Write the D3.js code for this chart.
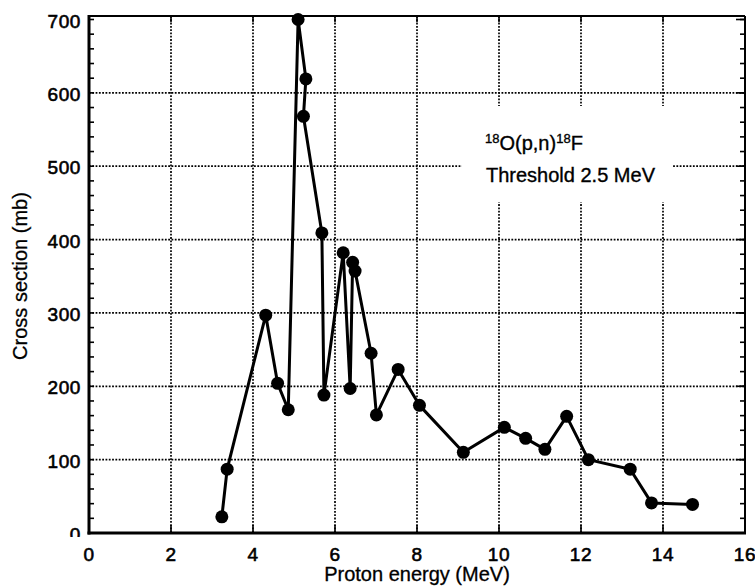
<!DOCTYPE html>
<html>
<head>
<meta charset="utf-8">
<script src="https://cdn.jsdelivr.net/npm/d3@7/dist/d3.min.js"></script>
<style>
  html, body { margin: 0; padding: 0; background: #fff; }
  svg { display: block; font-family: "Liberation Sans", Arial, Helvetica, sans-serif; }
</style>
</head>
<body>
<svg id="chart" width="755" height="587"></svg>
<script>
// ---- Data ----
const energy = [3.24, 3.37, 4.31, 4.60, 4.86, 5.10, 5.29, 5.23, 5.68, 5.73, 6.20, 6.37, 6.43, 6.49, 6.88, 7.01, 7.54, 8.06, 9.13, 10.13, 10.65, 11.12, 11.65, 12.18, 13.20, 13.72, 14.72];
const crossSection = [22, 87, 297, 204, 168, 700, 619, 568, 409, 188, 382, 197, 369, 357, 245, 161, 223, 174, 110, 144, 129, 114, 159, 100, 87, 41, 39];
const xTicks = [0, 2, 4, 6, 8, 10, 12, 14, 16];
const yTicks = [0, 100, 200, 300, 400, 500, 600, 700];
const yMinorStep = 20;
const xTitle = "Proton energy (MeV)";
const yTitle = "Cross section (mb)";
const noteLine2 = "Threshold 2.5 MeV";

// ---- Layout ----
const svg = d3.select("#chart");
const pLeft = 89, pRight = 745, pTop = 16, pBottom = 533;

const x = d3.scaleLinear().domain([0, 16]).range([pLeft, pRight]);
const y = d3.scaleLinear().domain([0, 700]).range([pBottom, 19.5]);

// grid (dotted)
const grid = svg.append("g").attr("stroke", "#000").attr("stroke-width", 1.7)
  .attr("stroke-dasharray", "1.8,1.5").attr("fill", "none");
grid.selectAll("line.v").data(xTicks.filter(d => d > 0 && d < 16)).join("line")
  .attr("class", "v").attr("x1", d => x(d)).attr("x2", d => x(d))
  .attr("y1", pTop).attr("y2", pBottom);
grid.selectAll("line.h").data(yTicks.filter(d => d > 0 && d < 700)).join("line")
  .attr("class", "h").attr("x1", pLeft).attr("x2", pRight)
  .attr("y1", d => y(d)).attr("y2", d => y(d));

// white box behind annotation
svg.append("rect").attr("x", 462).attr("y", 106).attr("width", 211).attr("height", 96).attr("fill", "#fff");

// annotation
const note = svg.append("text").attr("x", 485).attr("y", 150)
  .attr("font-size", 20).attr("fill", "#000").attr("stroke", "#000").attr("stroke-width", 0.35);
note.append("tspan").attr("font-size", 13).attr("dy", -7).text("18");
note.append("tspan").attr("dy", 7).text("O(p,n)");
note.append("tspan").attr("font-size", 13).attr("dy", -7).text("18");
note.append("tspan").attr("dy", 7).text("F");
svg.append("text").attr("x", 486).attr("y", 182).attr("font-size", 20).attr("fill", "#000")
  .attr("stroke", "#000").attr("stroke-width", 0.35).text(noteLine2);

// minor ticks on left and right
const minor = d3.range(0, 700 + 1e-9, yMinorStep);
const ticks = svg.append("g").attr("stroke", "#000").attr("stroke-width", 1.6);
ticks.selectAll("line.ml").data(minor).join("line").attr("class", "ml")
  .attr("x1", pLeft).attr("x2", pLeft + 5).attr("y1", d => y(d)).attr("y2", d => y(d));
ticks.selectAll("line.mr").data(minor).join("line").attr("class", "mr")
  .attr("x1", pRight).attr("x2", pRight - 5).attr("y1", d => y(d)).attr("y2", d => y(d));
ticks.selectAll("line.Mr").data(yTicks).join("line").attr("class", "Mr")
  .attr("x1", pRight).attr("x2", pRight - 9).attr("y1", d => y(d)).attr("y2", d => y(d));
ticks.selectAll("line.Mb").data(xTicks).join("line").attr("class", "Mb")
  .attr("x1", d => x(d)).attr("x2", d => x(d)).attr("y1", pBottom).attr("y2", pBottom - 8);
ticks.selectAll("line.Mt").data(xTicks).join("line").attr("class", "Mt")
  .attr("x1", d => x(d)).attr("x2", d => x(d)).attr("y1", pTop).attr("y2", pTop + 6);

// frame
svg.append("line").attr("x1", pLeft).attr("x2", pRight).attr("y1", pTop).attr("y2", pTop).attr("stroke", "#000").attr("stroke-width", 2);
svg.append("line").attr("x1", pRight).attr("x2", pRight).attr("y1", pTop).attr("y2", pBottom).attr("stroke", "#000").attr("stroke-width", 2);
svg.append("line").attr("x1", pLeft).attr("x2", pLeft).attr("y1", pTop - 1).attr("y2", pBottom + 1.5).attr("stroke", "#000").attr("stroke-width", 3);
svg.append("line").attr("x1", pLeft - 1.5).attr("x2", pRight + 1).attr("y1", pBottom).attr("y2", pBottom).attr("stroke", "#000").attr("stroke-width", 3);

// tick labels
svg.append("clipPath").attr("id", "yclip").append("rect").attr("x", 0).attr("y", 0).attr("width", 88).attr("height", 537);
svg.append("g").attr("clip-path", "url(#yclip)")
  .selectAll("text").data(yTicks).join("text")
  .attr("x", 81).attr("y", d => y(d) + 8).attr("text-anchor", "end")
  .attr("font-size", 19).attr("letter-spacing", 0.6).attr("fill", "#000")
  .attr("stroke", "#000").attr("stroke-width", 0.6)
  .text(d => d);
svg.append("g").selectAll("text").data(xTicks).join("text")
  .attr("x", d => x(d)).attr("y", 561).attr("text-anchor", "middle")
  .attr("font-size", 19).attr("letter-spacing", 0.6).attr("fill", "#000")
  .attr("stroke", "#000").attr("stroke-width", 0.6)
  .text(d => d);

// axis titles
svg.append("text").attr("x", 417).attr("y", 581).attr("text-anchor", "middle")
  .attr("font-size", 20).attr("fill", "#000").attr("stroke", "#000").attr("stroke-width", 0.3).text(xTitle);
svg.append("text").attr("transform", "translate(27,276) rotate(-90)").attr("text-anchor", "middle")
  .attr("font-size", 20).attr("fill", "#000").attr("stroke", "#000").attr("stroke-width", 0.3).text(yTitle);

// data line and markers
const pts = energy.map((e, i) => [e, crossSection[i]]);
svg.append("path").datum(pts)
  .attr("fill", "none").attr("stroke", "#000").attr("stroke-width", 3).attr("stroke-linejoin", "round")
  .attr("d", d3.line().x(d => x(d[0])).y(d => y(d[1])));
svg.append("g").selectAll("circle").data(pts).join("circle")
  .attr("cx", d => x(d[0])).attr("cy", d => y(d[1])).attr("r", 6.5).attr("fill", "#000");
</script>
</body>
</html>
